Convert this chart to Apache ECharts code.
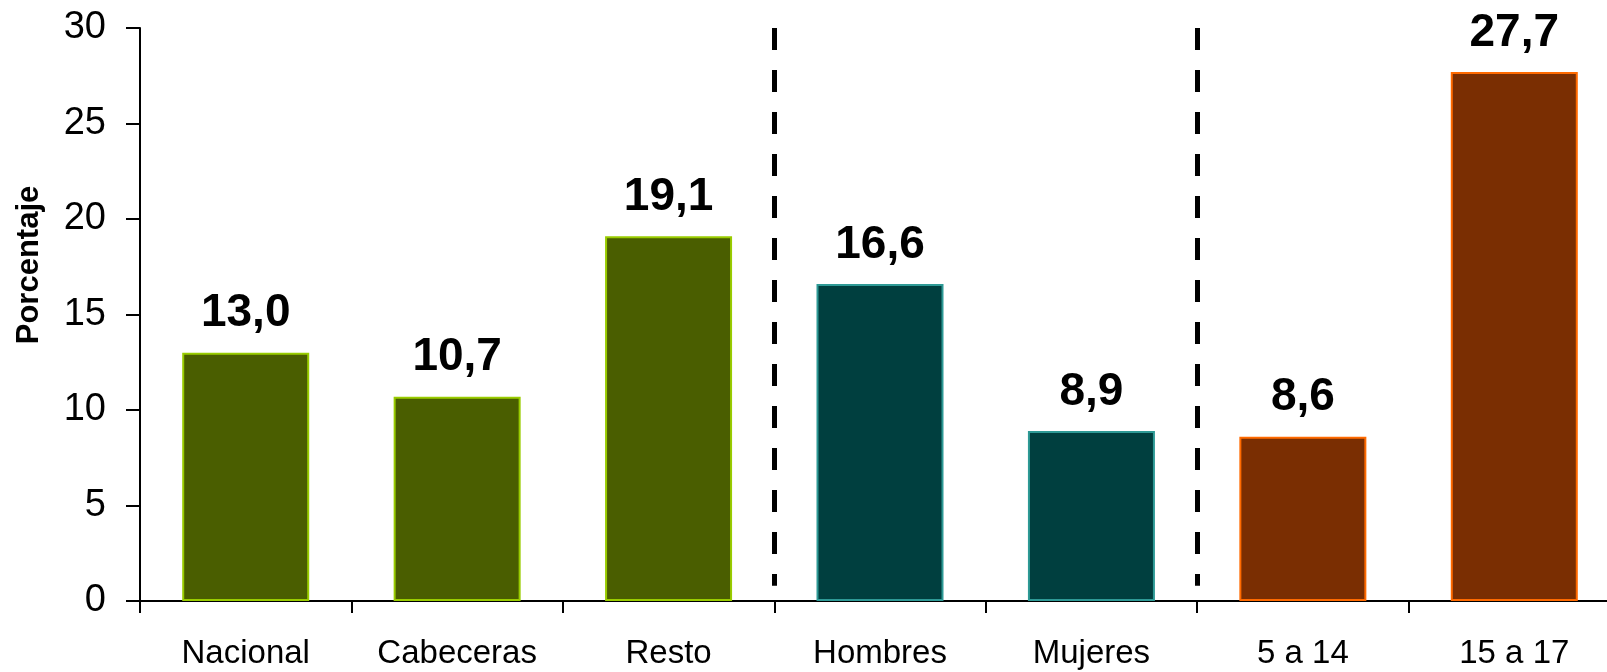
<!DOCTYPE html>
<html>
<head>
<meta charset="utf-8">
<script src="https://cdn.jsdelivr.net/npm/echarts@6/dist/echarts.min.js"></script>
<style>
html,body{margin:0;padding:0;background:#fff;overflow:hidden;width:1607px;height:672px;}
#chart{width:1620px;height:672px;}
</style>
</head>
<body>
<div id="chart"></div>
<script>
// ---- data ----
const categories = ['Nacional', 'Cabeceras', 'Resto', 'Hombres', 'Mujeres', '5 a 14', '15 a 17'];
const values = [13.0, 10.7, 19.1, 16.6, 8.9, 8.6, 27.7];
const groupOfCategory = [0, 0, 0, 1, 1, 2, 2];
const separatorPositions = [3, 5];
const yTicks = [0, 5, 10, 15, 20, 25, 30];
const yAxisTitle = 'Porcentaje';

// ---- styles ----
const groupFill = ['#4A5E00', '#003F3F', '#7A2E02'];
const groupBorder = ['#99CC00', '#2E9A96', '#FF6A00'];
const FONT = '"Liberation Sans", Arial, sans-serif';

const chart = echarts.init(document.getElementById('chart'), null, {renderer: 'canvas'});

const barData = values.map((v, i) => ({
  value: v,
  itemStyle: {
    color: groupFill[groupOfCategory[i]],
    borderColor: groupBorder[groupOfCategory[i]],
    borderWidth: 2
  }
}));

const sepLines = separatorPositions.map(p => [
  {coord: [p, yTicks[yTicks.length - 1]]},
  {coord: [p, 0.8]}
]);

chart.setOption({
  animation: false,
  backgroundColor: '#ffffff',
  grid: {left: 140, top: 28, right: 0, bottom: 71, containLabel: false},
  xAxis: [{
    type: 'category',
    data: categories,
    boundaryGap: true,
    axisLine: {show: true, lineStyle: {color: '#000', width: 2}},
    axisTick: {show: true, length: 12, interval: 0, lineStyle: {color: '#000', width: 2}},
    axisLabel: {interval: 0, margin: 36, color: '#000', fontSize: 33, fontFamily: FONT},
    splitLine: {show: false}
  }, {
    type: 'value',
    min: 0,
    max: categories.length,
    show: false
  }],
  yAxis: {
    type: 'value',
    min: yTicks[0],
    max: yTicks[yTicks.length - 1],
    interval: yTicks[1] - yTicks[0],
    axisLine: {show: true, lineStyle: {color: '#000', width: 2}},
    axisTick: {show: true, length: 14, lineStyle: {color: '#000', width: 2}},
    axisLabel: {margin: 34, color: '#000', fontSize: 38, fontFamily: FONT},
    splitLine: {show: false}
  },
  graphic: [{
    type: 'text',
    x: 29,
    y: 265,
    rotation: Math.PI / 2,
    style: {
      text: yAxisTitle,
      fontSize: 31,
      fontWeight: 'bold',
      fontFamily: FONT,
      fill: '#000',
      align: 'center',
      verticalAlign: 'middle'
    }
  }],
  series: [{
    type: 'bar',
    data: barData,
    barWidth: 127,
    label: {
      show: true,
      position: 'top',
      distance: 16,
      color: '#000',
      fontSize: 46,
      fontWeight: 'bold',
      fontFamily: FONT,
      formatter: p => p.value.toFixed(1).replace('.', ',')
    }
  }, {
    type: 'line',
    xAxisIndex: 1,
    data: [],
    silent: true,
    markLine: {
      silent: true,
      symbol: 'none',
      animation: false,
      label: {show: false},
      lineStyle: {color: '#000', width: 5, type: [22, 20]},
      data: sepLines
    }
  }]
});
</script>
</body>
</html>
